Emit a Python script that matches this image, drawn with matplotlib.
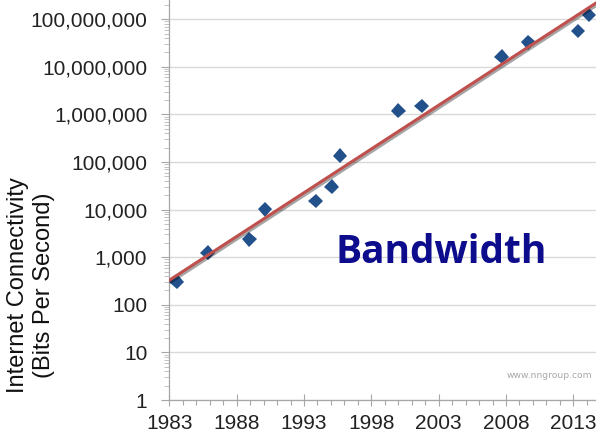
import numpy as np
import matplotlib
matplotlib.use('Agg')
import matplotlib.pyplot as plt
import matplotlib.ticker as ticker
import matplotlib.patheffects as pe

# connection speed by year (bits per second)
years = [1983.55, 1985.85, 1988.94, 1990.10, 1993.87, 1995.06, 1995.67,
         2000.00, 2001.74, 2007.68, 2009.65, 2013.36, 2014.16]
bps = [306, 1240, 2380, 10100, 15200, 30300, 136000,
       1200000, 1510000, 16300000, 32600000, 57000000, 123000000]
year_ticks = [1983, 1988, 1993, 1998, 2003, 2008, 2013]
bps_ticks = [1, 10, 100, 1000, 10000, 100000, 1000000, 10000000, 100000000]

plt.rcParams['font.family'] = ['Liberation Sans', 'DejaVu Sans']

fig = plt.figure(figsize=(5.96, 4.37), dpi=100)
ax = fig.add_axes([169.3 / 596, 37 / 437, 431 / 596, 400 / 437])

# exponential trendline, fitted in log space
coef = np.polyfit(years, np.log10(bps), 1)
tx = np.array([1983, 2015])
ty = 10 ** np.polyval(coef, tx)

ax.plot(years, bps, linestyle='none', marker='D', markersize=7.4,
        color='#21508a', markeredgewidth=0, zorder=3,
        path_effects=[pe.SimpleLineShadow(offset=(1, -1), alpha=0.25), pe.Normal()])
ax.plot(tx, ty, color='#c0504d', linewidth=2.2, zorder=4,
        path_effects=[pe.SimpleLineShadow(offset=(1.2, -1.2), alpha=0.35), pe.Normal()])

ax.set_yscale('log')
ax.set_ylim(1, 10 ** 8.403)
ax.set_xlim(1983, 2015)

ax.set_yticks(bps_ticks)
ax.yaxis.set_major_formatter(ticker.FuncFormatter(lambda v, p: '{:,.0f}'.format(v)))
ax.yaxis.set_minor_locator(ticker.LogLocator(base=10, subs=np.arange(2, 10), numticks=20))
ax.yaxis.set_minor_formatter(ticker.NullFormatter())
ax.set_xticks(year_ticks)
ax.xaxis.set_minor_locator(ticker.MultipleLocator(1))

ax.grid(axis='y', which='major', color='#d9d9d9', linewidth=1.0)
ax.set_axisbelow(True)

for s in ['top', 'right']:
    ax.spines[s].set_visible(False)
for s in ['left', 'bottom']:
    ax.spines[s].set_color('#a6a6a6')
    ax.spines[s].set_linewidth(0.9)

ax.tick_params(axis='y', which='major', direction='out', length=5.8, width=0.8,
               color='#a6a6a6', pad=10, labelsize=15, labelcolor='#222222')
ax.tick_params(axis='y', which='minor', direction='out', length=3.6, width=0.6,
               color='#b8b8b8')
ax.tick_params(axis='x', which='major', direction='inout', length=8.6, width=0.8,
               color='#a6a6a6', pad=6, labelsize=15, labelcolor='#222222')
ax.tick_params(axis='x', which='minor', direction='out', length=3.6, width=0.8,
               color='#a6a6a6')
for lab in ax.get_xticklabels() + ax.get_yticklabels():
    lab.set_family('Liberation Sans')

fig.text(31 / 596, 1 - 285 / 437, 'Internet Connectivity\n(Bits Per Second)',
         rotation=90, ha='center', va='center', multialignment='center',
         fontsize=17, color='#111111', linespacing=1.25)

fig.text(335 / 596, 1 - 263 / 437, 'Bandwidth', ha='left', va='baseline',
         fontsize=28, fontweight='bold', color='#0c0c8c', family='Open Sans')

fig.text(507 / 596, 1 - 375 / 437, 'www.nngroup.com', ha='left', va='center',
         fontsize=6.6, color='#a8a8a8', family='DejaVu Sans')

fig.savefig('out.png', dpi=100)
